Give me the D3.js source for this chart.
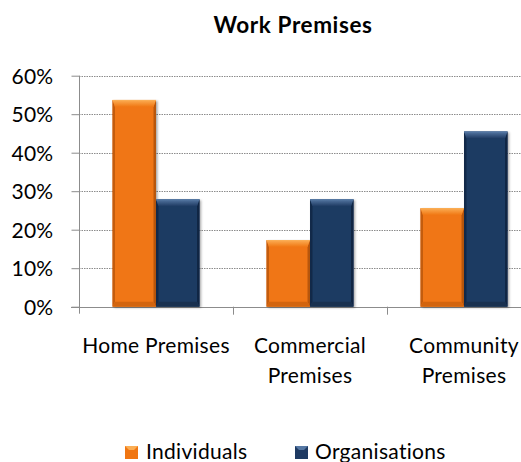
<!DOCTYPE html>
<html>
<head>
<meta charset="utf-8">
<script src="https://cdn.jsdelivr.net/npm/d3@7/dist/d3.min.js"></script>
<style>
  html, body { margin: 0; padding: 0; background: #fff; overflow: hidden; }
  svg { display: block; }
  text { font-family: Lato, "Open Sans", sans-serif; fill: #000; }
</style>
</head>
<body>
<svg id="chart" width="521" height="462"></svg>
<script>
// Work premises by respondent type
const categories = ["Home Premises", "Commercial Premises", "Community Premises"];
const categoryLines = [["Home Premises"], ["Commercial", "Premises"], ["Community", "Premises"]];
const seriesNames = ["Individuals", "Organisations"];
const individuals = [0.537, 0.173, 0.256];
const organisations = [0.279, 0.279, 0.455];
const yTicks = [0, 0.1, 0.2, 0.3, 0.4, 0.5, 0.6];

const palette = {
  Individuals: { main: "#F07612", light: "#FBAE55", dark: "#B8560C", bottom: "#D2640E" },
  Organisations: { main: "#1E3A62", light: "#5678A4", dark: "#102644", bottom: "#18304F" }
};

const svg = d3.select("#chart");
const left = 79, plotTop = 75.7, plotBottom = 306.7, step = 154;
const right = left + step * categories.length;

const x0 = d3.scaleBand().domain(categories).range([left, right]).padding(0);
const x1 = d3.scaleBand().domain(seriesNames).range([0, x0.bandwidth()])
  .paddingInner(0).paddingOuter(0.77);
const y = d3.scaleLinear().domain([0, 0.6]).range([plotBottom, plotTop]);

const rows = categories.map((c, i) => ({
  category: c,
  values: [
    { series: "Individuals", value: individuals[i] },
    { series: "Organisations", value: organisations[i] }
  ]
}));

// Gradients for the bevelled bar tops
const defs = svg.append("defs");
seriesNames.forEach(s => {
  const g = defs.append("linearGradient").attr("id", "top-" + s)
    .attr("x1", 0).attr("y1", 0).attr("x2", 0).attr("y2", 1);
  g.append("stop").attr("offset", "0%").attr("stop-color", palette[s].light);
  g.append("stop").attr("offset", "100%").attr("stop-color", palette[s].main);
});
const shadow = defs.append("filter").attr("id", "shadow")
  .attr("x", "-20%").attr("y", "-10%").attr("width", "140%").attr("height", "130%");
shadow.append("feDropShadow").attr("dx", 1.5).attr("dy", 1).attr("stdDeviation", 1.2)
  .attr("flood-color", "#000").attr("flood-opacity", 0.35);

// Title
svg.append("text").attr("x", 293).attr("y", 33).attr("text-anchor", "middle")
  .style("font-size", "22.5px").style("font-weight", "bold").style("letter-spacing", "0.6px")
  .text("Work Premises");

// Dotted gridlines
svg.append("g").selectAll("line").data(yTicks.filter(t => t > 0)).join("line")
  .attr("x1", left).attr("x2", right)
  .attr("y1", d => Math.round(y(d)) + 0.5).attr("y2", d => Math.round(y(d)) + 0.5)
  .attr("stroke", "#8c8c8c").attr("stroke-width", 1).attr("stroke-dasharray", "1.5,1");

// Y axis
const yAxis = d3.axisLeft(y).tickValues(yTicks).tickFormat(d3.format(".0%"))
  .tickSize(8).tickPadding(18);
const gy = svg.append("g").attr("transform", `translate(${left + 0.5},0)`).call(yAxis);
gy.select(".domain").attr("stroke", "#8c8c8c").attr("d", `M0,${plotTop}V${plotBottom + 7}`);
gy.selectAll(".tick line").attr("stroke", "#8c8c8c");
gy.selectAll(".tick text").style("font-size", "21px").style("letter-spacing", "0.3px")
  .attr("dy", "0.36em").attr("font-family", null);

// X axis line with category boundary ticks
const gx = svg.append("g");
gx.append("line").attr("x1", left - 8).attr("x2", right)
  .attr("y1", Math.round(plotBottom) + 0.5).attr("y2", Math.round(plotBottom) + 0.5)
  .attr("stroke", "#8c8c8c");
gx.selectAll("line.tick").data(categories.slice(1)).join("line").attr("class", "tick")
  .attr("x1", d => x0(d) + 0.5).attr("x2", d => x0(d) + 0.5)
  .attr("y1", plotBottom).attr("y2", plotBottom + 8).attr("stroke", "#8c8c8c");

// Category labels
const lbl = svg.append("g").selectAll("text").data(categories).join("text")
  .attr("x", d => x0(d) + x0.bandwidth() / 2).attr("y", 353)
  .attr("text-anchor", "middle").style("font-size", "21px").style("letter-spacing", "0.3px");
lbl.selectAll("tspan").data((d, i) => categoryLines[i]).join("tspan")
  .attr("x", function () { return d3.select(this.parentNode).attr("x"); })
  .attr("dy", (d, i) => i === 0 ? 0 : 30).text(d => d);

// Bars with bevel
const bars = svg.append("g").selectAll("g").data(rows).join("g")
  .attr("transform", d => `translate(${x0(d.category)},0)`)
  .selectAll("g").data(d => d.values).join("g");

bars.each(function (d) {
  const g = d3.select(this);
  const bx = x1(d.series), bw = x1.bandwidth();
  const by = y(d.value), bh = y(0) - y(d.value);
  const c = palette[d.series];
  const b = 7;
  g.append("rect").attr("x", bx).attr("y", by).attr("width", bw).attr("height", bh)
    .attr("fill", c.main).attr("filter", "url(#shadow)");
  // side edges
  g.append("polygon").attr("fill", c.dark).attr("opacity", 0.8)
    .attr("points", [[bx, by], [bx + 2.5, by + b], [bx + 2.5, by + bh - 5], [bx, by + bh]].join(" "));
  g.append("polygon").attr("fill", c.dark)
    .attr("points", [[bx + bw, by], [bx + bw - 2.5, by + b], [bx + bw - 2.5, by + bh - 5], [bx + bw, by + bh]].join(" "));
  // bottom edge
  g.append("polygon").attr("fill", c.bottom)
    .attr("points", [[bx, by + bh], [bx + 2.5, by + bh - 5], [bx + bw - 2.5, by + bh - 5], [bx + bw, by + bh]].join(" "));
  // top bevel
  g.append("polygon").attr("fill", `url(#top-${d.series})`)
    .attr("points", [[bx, by], [bx + bw, by], [bx + bw - 2.5, by + b], [bx + 2.5, by + b]].join(" "));
  g.append("line").attr("x1", bx).attr("x2", bx + bw).attr("y1", by + 0.5).attr("y2", by + 0.5)
    .attr("stroke", c.light).attr("stroke-width", 1);
});

// Legend
const legendItems = [
  { name: "Individuals", sx: 125, tx: 146 },
  { name: "Organisations", sx: 295, tx: 315 }
];
const lg = svg.append("g").selectAll("g").data(legendItems).join("g");
lg.append("rect").attr("x", d => d.sx).attr("y", 446).attr("width", 13).attr("height", 13)
  .attr("fill", d => palette[d.name].main);
lg.append("polygon").attr("fill", d => palette[d.name].light)
  .attr("points", d => [[d.sx, 446], [d.sx + 13, 446], [d.sx + 9, 450], [d.sx + 4, 450]].join(" "));
lg.append("text").attr("x", d => d.tx).attr("y", 459).style("font-size", "21px")
  .style("letter-spacing", "0.3px").text(d => d.name);
</script>
</body>
</html>
